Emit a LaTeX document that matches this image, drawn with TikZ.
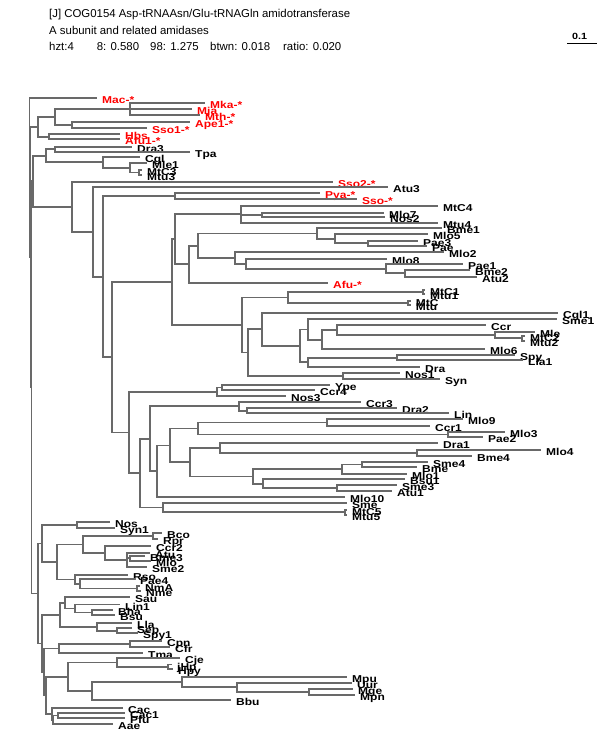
\documentclass[tikz,border=0pt]{standalone}
\usepackage{fontspec}
\setmainfont{Liberation Sans}
\newfontfamily\leaffont{Liberation Sans}[FakeStretch=1.2]
\definecolor{treegray}{RGB}{105,105,105}

\begin{document}
\begin{tikzpicture}[
  x=1pt, y=-1pt,
  branch/.style={draw=treegray, line width=1.8pt},
  leaf/.style={anchor=base west, inner sep=0pt, xshift=5pt, yshift=-5.5pt, font=\leaffont\bfseries\fontsize{10}{10}\selectfont},
  redleaf/.style={leaf, text=red},
  title/.style={anchor=base west, inner sep=0pt, font=\fontsize{11.4}{12}\selectfont}
]
\path[fill=white] (0,0) rectangle (600,750);

% Title and scale bar
\node[title] (title1) at (49,17.5) {[J] COG0154 Asp-tRNAAsn/Glu-tRNAGln amidotransferase};
\node[title] (title2) at (49,34) {A subunit and related amidases};
\node[title] (hzt) at (49,50.5) {hzt:4};
\node[title] (p8) at (96.7,50.5) {8: 0.580};
\node[title] (p98) at (150,50.5) {98: 1.275};
\node[title] (btwn) at (210,50.5) {btwn: 0.018};
\node[title] (ratio) at (283,50.5) {ratio: 0.020};
\coordinate (bar1) at (567,43); \coordinate (bar2) at (597,43);
\draw[line width=1pt] (bar1) -- (bar2);
\node[title, font=\leaffont\bfseries\fontsize{9}{9}\selectfont] (barlab) at (572,39.5) {0.1};

% Top: archaeal group (red)
\coordinate (mac) at (97,97.7);    \node[redleaf] (mac-t) at (mac) {Mac-*};
\coordinate (mka) at (205,103.3);  \node[redleaf] (mka-t) at (mka) {Mka-*};
\coordinate (mja) at (192,109);    \node[redleaf] (mja-t) at (mja) {Mja};
\coordinate (mth) at (200,115);    \node[redleaf] (mth-t) at (mth) {Mth-*};
\coordinate (ape1) at (190,121.7); \node[redleaf] (ape1-t) at (ape1) {Ape1-*};
\coordinate (sso1) at (147,127.7); \node[redleaf] (sso1-t) at (sso1) {Sso1-*};
\coordinate (hbs) at (120,134.3);  \node[redleaf] (hbs-t) at (hbs) {Hbs};
\coordinate (afu1) at (120,139);   \node[redleaf] (afu1-t) at (afu1) {Afu1-*};
\coordinate (m1) at (130,109);
\coordinate (q) at (71.7,124.7);
\coordinate (p) at (55,116.8);
\coordinate (h) at (49.3,136.7);
\coordinate (g) at (38.3,126.8);
\draw[branch] (m1) |- (mka) (m1) |- (mja) (m1) |- (mth);
\draw[branch] (q) |- (ape1) (q) |- (sso1) (p) |- (m1) (p) |- (q);
\draw[branch] (h) |- (hbs) (h) |- (afu1) (g) |- (p) (g) |- (h);

% Top: small black group
\coordinate (dra3) at (132,146.7); \node[leaf] (dra3-t) at (dra3) {Dra3};
\coordinate (tpa) at (190,151.7);  \node[leaf] (tpa-t) at (tpa) {Tpa};
\coordinate (cgl) at (140,156.7);  \node[leaf] (cgl-t) at (cgl) {Cgl};
\coordinate (mle1) at (147,163);   \node[leaf] (mle1-t) at (mle1) {Mle1};
\coordinate (mtc3) at (142,170);   \node[leaf] (mtc3-t) at (mtc3) {MtC3};
\coordinate (mtu3) at (142,175);   \node[leaf] (mtu3-t) at (mtu3) {Mtu3};
\coordinate (d) at (55,149.2);
\coordinate (f3) at (139,172.5);
\coordinate (f2) at (130,167.7);
\coordinate (f) at (103,162.2);
\coordinate (e) at (46,155.7);
\draw[branch] (d) |- (dra3) (d) |- (tpa) (f3) |- (mtc3) (f3) |- (mtu3);
\draw[branch] (f2) |- (mle1) (f2) |- (f3) (f) |- (cgl) (f) |- (f2) (e) |- (d) (e) |- (f);

% Middle: upper part of big clade
\coordinate (sso2) at (333,181.7); \node[redleaf] (sso2-t) at (sso2) {Sso2-*};
\coordinate (atu3) at (388,186.7); \node[leaf] (atu3-t) at (atu3) {Atu3};
\coordinate (pya) at (320,193.3);  \node[redleaf] (pya-t) at (pya) {Pya-*};
\coordinate (sso) at (357,199.3);  \node[redleaf] (sso-t) at (sso) {Sso-*};
\coordinate (mtc4) at (438,205.7); \node[leaf] (mtc4-t) at (mtc4) {MtC4};
\coordinate (mlo7) at (384,212.7); \node[leaf] (mlo7-t) at (mlo7) {Mlo7};
\coordinate (nos2) at (385,217.3); \node[leaf] (nos2-t) at (nos2) {Nos2};
\coordinate (mtu4) at (438,222.7); \node[leaf] (mtu4-t) at (mtu4) {Mtu4};
\coordinate (bme1) at (442,228.3); \node[leaf] (bme1-t) at (bme1) {Bme1};
\coordinate (mlo5) at (428,234);   \node[leaf] (mlo5-t) at (mlo5) {Mlo5};
\coordinate (pae3) at (418,240.7); \node[leaf] (pae3-t) at (pae3) {Pae3};
\coordinate (pae) at (427,246);    \node[leaf] (pae-t) at (pae) {Pae};
\coordinate (mlo2) at (444,251.7); \node[leaf] (mlo2-t) at (mlo2) {Mlo2};
\coordinate (mlo8) at (387,259.3); \node[leaf] (mlo8-t) at (mlo8) {Mlo8};
\coordinate (pae1) at (463,264.3); \node[leaf] (pae1-t) at (pae1) {Pae1};
\coordinate (bme2) at (470,270);   \node[leaf] (bme2-t) at (bme2) {Bme2};
\coordinate (atu2) at (477,276.7); \node[leaf] (atu2-t) at (atu2) {Atu2};
\coordinate (afu) at (328,282.7);  \node[redleaf] (afu-t) at (afu) {Afu-*};
\coordinate (ps) at (175,196.3);
\coordinate (a1b) at (261.7,215);
\coordinate (a1) at (241,214.2);
\coordinate (a4c) at (368.3,243.3);
\coordinate (a4b) at (335,238.7);
\coordinate (a4) at (316.7,233.5);
\coordinate (a8) at (405,273.3);
\coordinate (a7) at (386,268.8);
\coordinate (a6) at (245.7,264);
\coordinate (a5) at (235,257.8);
\coordinate (a3) at (198.3,245.7);
\coordinate (a2) at (189,264.2);
\coordinate (k6) at (175,239.2);
\draw[branch] (ps) |- (pya) (ps) |- (sso);
\draw[branch] (a1b) |- (mlo7) (a1b) |- (nos2) (a1) |- (mtc4) (a1) |- (a1b) (a1) |- (mtu4);
\draw[branch] (a4c) |- (pae3) (a4c) |- (pae) (a4b) |- (mlo5) (a4b) |- (a4c) (a4) |- (bme1) (a4) |- (a4b);
\draw[branch] (a8) |- (bme2) (a8) |- (atu2) (a7) |- (pae1) (a7) |- (a8) (a6) |- (mlo8) (a6) |- (a7);
\draw[branch] (a5) |- (mlo2) (a5) |- (a6) (a3) |- (a4) (a3) |- (a5) (a2) |- (a3) (a2) |- (afu);
\draw[branch] (k6) |- (a1) (k6) |- (a2);

% Middle: Mtu / Cgl1 / Syn part
\coordinate (mtc1) at (425,289.7); \node[leaf] (mtc1-t) at (mtc1) {MtC1};
\coordinate (mtu1) at (425,293.7); \node[leaf] (mtu1-t) at (mtu1) {Mtu1};
\coordinate (mtc) at (410.7,301.3); \node[leaf] (mtc-t) at (mtc) {MtC};
\coordinate (mtu) at (410.7,305.3); \node[leaf] (mtu-t) at (mtu) {Mtu};
\coordinate (cgl1) at (558,312.7); \node[leaf] (cgl1-t) at (cgl1) {Cgl1};
\coordinate (sme1) at (557,319.3); \node[leaf] (sme1-t) at (sme1) {Sme1};
\coordinate (ccr) at (486,325);    \node[leaf] (ccr-t) at (ccr) {Ccr};
\coordinate (mle) at (535,331.7);  \node[leaf] (mle-t) at (mle) {Mle};
\coordinate (mtc2) at (525,335.7); \node[leaf] (mtc2-t) at (mtc2) {MtC2};
\coordinate (mtu2) at (525,341);   \node[leaf] (mtu2-t) at (mtu2) {Mtu2};
\coordinate (mlo6) at (485,349.3); \node[leaf] (mlo6-t) at (mlo6) {Mlo6};
\coordinate (spy) at (515,355);    \node[leaf] (spy-t) at (spy) {Spy};
\coordinate (lla1) at (523,360.3); \node[leaf] (lla1-t) at (lla1) {Lla1};
\coordinate (dra) at (420,366.7);  \node[leaf] (dra-t) at (dra) {Dra};
\coordinate (nos1) at (400,372.7); \node[leaf] (nos1-t) at (nos1) {Nos1};
\coordinate (syn) at (440,379);    \node[leaf] (syn-t) at (syn) {Syn};
\coordinate (b2) at (423,291.7);
\coordinate (b3) at (408,303.3);
\coordinate (b1) at (288.3,297.5);
\coordinate (d3) at (521.7,338.3);
\coordinate (d2) at (495,335);
\coordinate (d1) at (337.3,330);
\coordinate (d0) at (321.7,339.7);
\coordinate (c2) at (308.3,329.5);
\coordinate (d5) at (396.7,357.7);
\coordinate (d4) at (308.3,362.2);
\coordinate (c3) at (300,345.8);
\coordinate (c1) at (261.7,329.2);
\coordinate (c9) at (343.3,375.8);
\coordinate (c0) at (248.3,352.5);
\coordinate (k7) at (241.7,325);
\coordinate (k5) at (171.7,282.1);
\draw[branch] (b2) |- (mtc1) (b2) |- (mtu1) (b3) |- (mtc) (b3) |- (mtu) (b1) |- (b2) (b1) |- (b3);
\draw[branch] (d3) |- (mtc2) (d3) |- (mtu2) (d2) |- (mle) (d2) |- (d3) (d1) |- (ccr) (d1) |- (d2);
\draw[branch] (d0) |- (d1) (d0) |- (mlo6) (c2) |- (sme1) (c2) |- (d0);
\draw[branch] (d5) |- (spy) (d5) |- (lla1) (d4) |- (d5) (d4) |- (dra) (c3) |- (c2) (c3) |- (d4);
\draw[branch] (c1) |- (cgl1) (c1) |- (c3) (c9) |- (nos1) (c9) |- (syn) (c0) |- (c1) (c0) |- (c9);
\draw[branch] (k7) |- (b1) (k7) |- (c0) (k5) |- (k6) (k5) |- (k7);

% Middle: lower part of big clade
\coordinate (ype) at (330,385);    \node[leaf] (ype-t) at (ype) {Ype};
\coordinate (ccr4) at (315,390);   \node[leaf] (ccr4-t) at (ccr4) {Ccr4};
\coordinate (nos3) at (286,396);   \node[leaf] (nos3-t) at (nos3) {Nos3};
\coordinate (ccr3) at (361,401.7); \node[leaf] (ccr3-t) at (ccr3) {Ccr3};
\coordinate (dra2) at (397,408.3); \node[leaf] (dra2-t) at (dra2) {Dra2};
\coordinate (lin) at (449,413.3);  \node[leaf] (lin-t) at (lin) {Lin};
\coordinate (mlo9) at (463,419.3); \node[leaf] (mlo9-t) at (mlo9) {Mlo9};
\coordinate (ccr1) at (430,425.7); \node[leaf] (ccr1-t) at (ccr1) {Ccr1};
\coordinate (mlo3) at (505,431.7); \node[leaf] (mlo3-t) at (mlo3) {Mlo3};
\coordinate (pae2) at (483,437.3); \node[leaf] (pae2-t) at (pae2) {Pae2};
\coordinate (dra1) at (438,443.3); \node[leaf] (dra1-t) at (dra1) {Dra1};
\coordinate (mlo4) at (541,450);   \node[leaf] (mlo4-t) at (mlo4) {Mlo4};
\coordinate (bme4) at (472,456);   \node[leaf] (bme4-t) at (bme4) {Bme4};
\coordinate (sme4) at (428,461.7); \node[leaf] (sme4-t) at (sme4) {Sme4};
\coordinate (bme) at (417,467.3);  \node[leaf] (bme-t) at (bme) {Bme};
\coordinate (mlo1) at (407,474);   \node[leaf] (mlo1-t) at (mlo1) {Mlo1};
\coordinate (bsu1) at (405,479.3); \node[leaf] (bsu1-t) at (bsu1) {Bsu1};
\coordinate (sme3) at (397,485);   \node[leaf] (sme3-t) at (sme3) {Sme3};
\coordinate (atu1) at (392,490.7); \node[leaf] (atu1-t) at (atu1) {Atu1};
\coordinate (mlo10) at (345,497.3); \node[leaf] (mlo10-t) at (mlo10) {Mlo10};
\coordinate (sme) at (347,502.7);  \node[leaf] (sme-t) at (sme) {Sme};
\coordinate (mtc5) at (347,509.7); \node[leaf] (mtc5-t) at (mtc5) {MtC5};
\coordinate (mtu5) at (347,515);   \node[leaf] (mtu5-t) at (mtu5) {Mtu5};
\coordinate (l2a) at (221.7,387.5);
\coordinate (l2) at (216.7,391.8);
\coordinate (l7) at (246.7,410.8);
\coordinate (l6) at (239.3,406.3);
\coordinate (l8) at (326.7,422.5);
\coordinate (l10) at (448.3,434.5);
\coordinate (l9) at (198.3,428.5);
\coordinate (l12) at (416.7,453);
\coordinate (l11) at (220,448.2);
\coordinate (l17) at (361.7,464.5);
\coordinate (l16) at (341.7,469.3);
\coordinate (l19) at (336.7,487.8);
\coordinate (l18) at (263.3,483.6);
\coordinate (l15) at (253.3,476.5);
\coordinate (l14) at (190,462.3);
\coordinate (l13) at (170,445.4);
\coordinate (l5) at (156.7,471.3);
\coordinate (l4) at (150,438.8);
\coordinate (l21) at (345,512.3);
\coordinate (l20) at (163.3,507.5);
\coordinate (l3) at (140,473.2);
\coordinate (l1) at (129.3,432.5);
\coordinate (k4) at (112,357.3);
\coordinate (k3) at (103.3,276.8);
\coordinate (k2) at (93.3,231.8);
\coordinate (k) at (71.7,206.8);
\coordinate (s) at (33,181.2);
\draw[branch] (l2a) |- (ype) (l2a) |- (ccr4) (l2) |- (l2a) (l2) |- (nos3);
\draw[branch] (l7) |- (dra2) (l7) |- (lin) (l6) |- (ccr3) (l6) |- (l7);
\draw[branch] (l8) |- (mlo9) (l8) |- (ccr1) (l10) |- (mlo3) (l10) |- (pae2) (l9) |- (l8) (l9) |- (l10);
\draw[branch] (l12) |- (mlo4) (l12) |- (bme4) (l11) |- (dra1) (l11) |- (l12);
\draw[branch] (l17) |- (sme4) (l17) |- (bme) (l16) |- (l17) (l16) |- (mlo1);
\draw[branch] (l19) |- (sme3) (l19) |- (atu1) (l18) |- (bsu1) (l18) |- (l19) (l15) |- (l16) (l15) |- (l18);
\draw[branch] (l14) |- (l11) (l14) |- (l15) (l13) |- (l9) (l13) |- (l14) (l5) |- (l13) (l5) |- (mlo10);
\draw[branch] (l4) |- (l6) (l4) |- (l5) (l21) |- (mtc5) (l21) |- (mtu5) (l20) |- (sme) (l20) |- (l21);
\draw[branch] (l3) |- (l4) (l3) |- (l20) (l1) |- (l2) (l1) |- (l3);
\draw[branch] (k4) |- (k5) (k4) |- (l1) (k3) |- (ps) (k3) |- (k4) (k2) |- (atu3) (k2) |- (k3);
\draw[branch] (k) |- (sso2) (k) |- (k2) (s) |- (e) (s) |- (k);

% Bottom clade
\coordinate (nos) at (110,521.7);  \node[leaf] (nos-t) at (nos) {Nos};
\coordinate (syn1) at (115,528.3); \node[leaf] (syn1-t) at (syn1) {Syn1};
\coordinate (bco) at (162,533.3);  \node[leaf] (bco-t) at (bco) {Bco};
\coordinate (rpr) at (158,539);    \node[leaf] (rpr-t) at (rpr) {Rpr};
\coordinate (ccr2) at (151,546);   \node[leaf] (ccr2-t) at (ccr2) {Ccr2};
\coordinate (atu) at (150,552.7);  \node[leaf] (atu-t) at (atu) {Atu};
\coordinate (bme3) at (145,555.7); \node[leaf] (bme3-t) at (bme3) {Bme3};
\coordinate (mlo) at (151,561);    \node[leaf] (mlo-t) at (mlo) {Mlo};
\coordinate (sme2) at (147,566.7); \node[leaf] (sme2-t) at (sme2) {Sme2};
\coordinate (rso) at (128,575);    \node[leaf] (rso-t) at (rso) {Rso};
\coordinate (pae4) at (135,579.3); \node[leaf] (pae4-t) at (pae4) {Pae4};
\coordinate (nma) at (140,586);    \node[leaf] (nma-t) at (nma) {NmA};
\coordinate (nme) at (141,591);    \node[leaf] (nme-t) at (nme) {Nme};
\coordinate (sau) at (130,596.7);  \node[leaf] (sau-t) at (sau) {Sau};
\coordinate (lin1) at (120,604.5); \node[leaf] (lin1-t) at (lin1) {Lin1};
\coordinate (bha) at (113,610);    \node[leaf] (bha-t) at (bha) {Bha};
\coordinate (bsu) at (115,615);    \node[leaf] (bsu-t) at (bsu) {Bsu};
\coordinate (lla) at (132,623.3);  \node[leaf] (lla-t) at (lla) {Lla};
\coordinate (sep) at (132,628.3);  \node[leaf] (sep-t) at (sep) {Sep};
\coordinate (spy1) at (138,633.3); \node[leaf] (spy1-t) at (spy1) {Spy1};
\coordinate (cpn) at (162,640.7);  \node[leaf] (cpn-t) at (cpn) {Cpn};
\coordinate (cfr) at (170,646.7);  \node[leaf] (cfr-t) at (cfr) {Cfr};
\coordinate (tma) at (143,653.3);  \node[leaf] (tma-t) at (tma) {Tma};
\coordinate (cje) at (180,658.3);  \node[leaf] (cje-t) at (cje) {Cje};
\coordinate (jhp) at (172,664.5);  \node[leaf] (jhp-t) at (jhp) {jHp};
\coordinate (hpy) at (173,669);    \node[leaf] (hpy-t) at (hpy) {Hpy};
\coordinate (mpu) at (347,676.7);  \node[leaf] (mpu-t) at (mpu) {Mpu};
\coordinate (uur) at (352,682.7);  \node[leaf] (uur-t) at (uur) {Uur};
\coordinate (mge) at (353,689);    \node[leaf] (mge-t) at (mge) {Mge};
\coordinate (mpn) at (355,695);    \node[leaf] (mpn-t) at (mpn) {Mpn};
\coordinate (bbu) at (231,700);    \node[leaf] (bbu-t) at (bbu) {Bbu};
\coordinate (cac) at (123,708.3);  \node[leaf] (cac-t) at (cac) {Cac};
\coordinate (cac1) at (125,712.7); \node[leaf] (cac1-t) at (cac1) {Cac1};
\coordinate (pfu) at (125,718.3);  \node[leaf] (pfu-t) at (pfu) {Pfu};
\coordinate (aae) at (113,724);    \node[leaf] (aae-t) at (aae) {Aae};
\coordinate (n2) at (76.7,525);
\coordinate (n4a) at (153.3,536);
\coordinate (n7) at (130,558.3);
\coordinate (n6) at (126.7,559.7);
\coordinate (n5) at (105,552.9);
\coordinate (n4) at (83.3,544.5);
\coordinate (n10) at (137,588.5);
\coordinate (n9) at (80,584);
\coordinate (n8) at (75,579.5);
\coordinate (n3) at (56.7,562);
\coordinate (n1) at (41.7,543.5);
\coordinate (n16) at (91.7,612.5);
\coordinate (n15) at (75,608.5);
\coordinate (n14) at (65,602.6);
\coordinate (n18) at (116.7,630.8);
\coordinate (n17) at (96.7,627);
\coordinate (n13) at (60,614.8);
\coordinate (n20) at (130,643.7);
\coordinate (n19) at (59.3,648.5);
\coordinate (n22) at (168.3,666.8);
\coordinate (n21) at (116.7,662.5);
\coordinate (n27) at (309,692);
\coordinate (n26) at (237.3,687.3);
\coordinate (n25) at (181.7,682);
\coordinate (n24) at (91.7,691);
\coordinate (n23) at (68.3,676.8);
\coordinate (n29) at (58.3,715.5);
\coordinate (n30) at (53.3,719.8);
\coordinate (n28) at (51.7,714);
\coordinate (n31) at (46,695.4);
\coordinate (n32) at (44,672);
\coordinate (n33) at (42,643.4);
\coordinate (n0) at (38.3,593.5);
\draw[branch] (n2) |- (nos) (n2) |- (syn1) (n4a) |- (bco) (n4a) |- (rpr);
\draw[branch] (n7) |- (bme3) (n7) |- (mlo) (n6) |- (atu) (n6) |- (n7) (n6) |- (sme2);
\draw[branch] (n5) |- (ccr2) (n5) |- (n6) (n4) |- (n4a) (n4) |- (n5);
\draw[branch] (n10) |- (nma) (n10) |- (nme) (n9) |- (pae4) (n9) |- (n10) (n8) |- (rso) (n8) |- (n9);
\draw[branch] (n3) |- (n4) (n3) |- (n8) (n1) |- (n2) (n1) |- (n3);
\draw[branch] (n16) |- (bha) (n16) |- (bsu) (n15) |- (lin1) (n15) |- (n16) (n14) |- (sau) (n14) |- (n15);
\draw[branch] (n18) |- (sep) (n18) |- (spy1) (n17) |- (lla) (n17) |- (n18) (n13) |- (n14) (n13) |- (n17);
\draw[branch] (n20) |- (cpn) (n20) |- (cfr) (n19) |- (n20) (n19) |- (tma);
\draw[branch] (n22) |- (jhp) (n22) |- (hpy) (n21) |- (cje) (n21) |- (n22);
\draw[branch] (n27) |- (mge) (n27) |- (mpn) (n26) |- (uur) (n26) |- (n27) (n25) |- (mpu) (n25) |- (n26);
\draw[branch] (n24) |- (n25) (n24) |- (bbu) (n23) |- (n21) (n23) |- (n24);
\draw[branch] (n29) |- (cac1) (n29) |- (pfu) (n30) |- (n29) (n30) |- (aae) (n28) |- (cac) (n28) |- (n30);
\draw[branch] (n31) |- (n23) (n31) |- (n28) (n32) |- (n19) (n32) |- (n31) (n33) |- (n13) (n33) |- (n32);
\draw[branch] (n0) |- (n1) (n0) |- (n33);

% Root
\coordinate (r2) at (31.5,387.3);
\coordinate (r1) at (30.5,257);
\coordinate (r0) at (29.5,177.4);
\draw[branch] (r2) |- (s) (r2) |- (n0) (r1) |- (g) (r1) |- (r2) (r0) |- (mac) (r0) |- (r1);

\end{tikzpicture}
\end{document}
